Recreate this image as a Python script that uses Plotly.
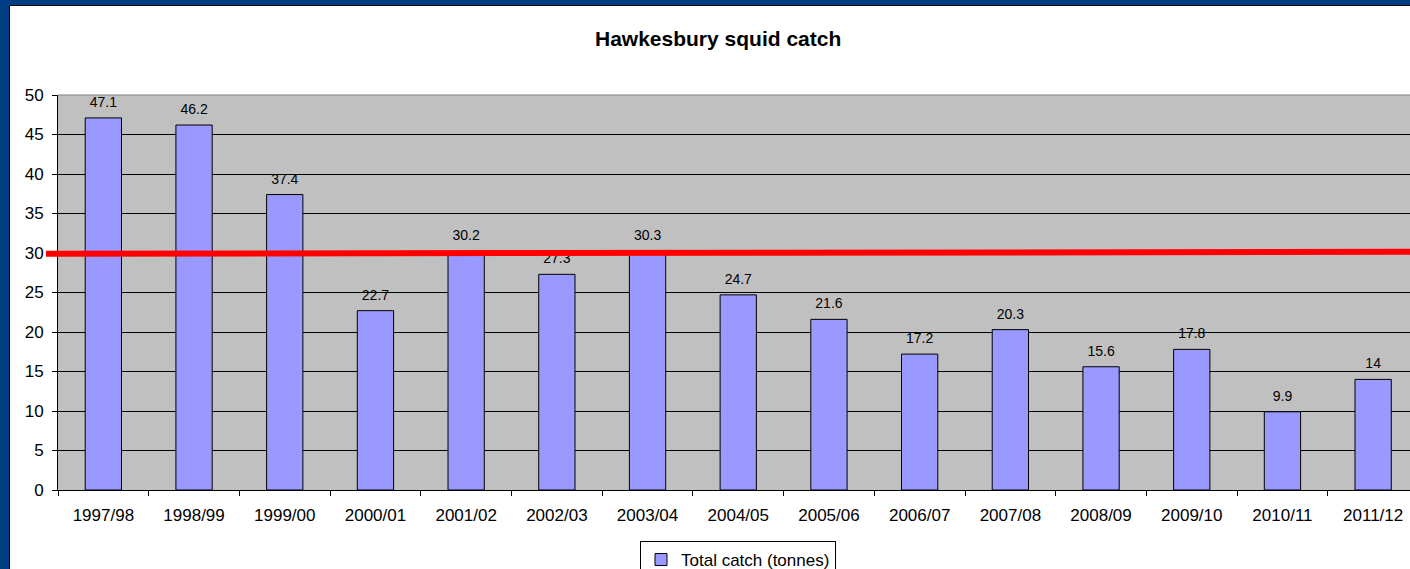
import plotly.graph_objects as go

# ---- data ----
seasons = ["1997/98", "1998/99", "1999/00", "2000/01", "2001/02", "2002/03", "2003/04",
           "2004/05", "2005/06", "2006/07", "2007/08", "2008/09", "2009/10", "2010/11", "2011/12"]
catch_tonnes = [47.1, 46.2, 37.4, 22.7, 30.2, 27.3, 30.3, 24.7, 21.6, 17.2, 20.3, 15.6, 17.8, 9.9, 14]
y_ticks = [0, 5, 10, 15, 20, 25, 30, 35, 40, 45, 50]
reference_start = 29.9   # hand-drawn red reference line, left end
reference_end = 30.15    # right end

W, H = 1410, 569
ML, MR, MT, MB = 58, 0, 95, 79
PW, PH = W - ML - MR, H - MT - MB
FONT = "Liberation Sans, Arial, sans-serif"
BLUE = "#003D82"

def px_x(p):
    return (p - ML) / PW

def px_y(p):
    return 1 - (p - MT) / PH

labels = [f"{v:g}" for v in catch_tonnes]

fig = go.Figure()
fig.add_trace(go.Bar(
    x=seasons, y=catch_tonnes, name="Total catch (tonnes)",
    width=0.4,
    marker=dict(color="#9999FF", line=dict(color="#000000", width=1)),
    hoverinfo="skip",
))
fig.add_trace(go.Scatter(
    x=seasons, y=catch_tonnes, text=labels, mode="markers+text",
    textposition="top center",
    marker=dict(size=10.4, color="rgba(0,0,0,0)"),
    textfont=dict(family=FONT, size=14, color="#000000"),
    showlegend=False, hoverinfo="skip",
))

cat_px = 90.7
span = PW / cat_px

shapes = [
    # grey plot-area top border
    dict(type="line", xref="paper", yref="paper", x0=0, x1=1, y0=1, y1=1,
         line=dict(color="#808080", width=1), layer="above"),
    # red reference line
    dict(type="line", xref="paper", yref="y", x0=px_x(46), x1=1.0,
         y0=reference_start, y1=reference_end,
         line=dict(color="#FF0000", width=6), layer="above"),
    # blue frame
    dict(type="rect", xref="paper", yref="paper", x0=px_x(-2), x1=px_x(9),
         y0=px_y(H + 5), y1=px_y(-2), fillcolor=BLUE, line=dict(width=0), layer="above"),
    dict(type="rect", xref="paper", yref="paper", x0=px_x(-2), x1=px_x(W + 5),
         y0=px_y(5), y1=px_y(-2), fillcolor=BLUE, line=dict(width=0), layer="above"),
    dict(type="line", xref="paper", yref="paper", x0=px_x(9.5), x1=px_x(9.5),
         y0=px_y(H + 5), y1=px_y(5.5), line=dict(color="#000000", width=1), layer="above"),
    dict(type="line", xref="paper", yref="paper", x0=px_x(9.5), x1=px_x(W + 5),
         y0=px_y(5.5), y1=px_y(5.5), line=dict(color="#000000", width=1), layer="above"),
]

fig.update_layout(
    width=W, height=H,
    margin=dict(l=ML, r=MR, t=MT, b=MB, pad=0, autoexpand=False),
    paper_bgcolor="#FFFFFF", plot_bgcolor="#C0C0C0",
    font=dict(family=FONT, size=17, color="#000000"),
    shapes=shapes,
    annotations=[dict(text="<b>Hawkesbury squid catch</b>", xref="paper", yref="paper",
                      x=px_x(718), y=px_y(39), xanchor="center", yanchor="middle",
                      showarrow=False, font=dict(family=FONT, size=21, color="#000000"))],
    showlegend=True,
    legend=dict(orientation="h", x=px_x(738), xanchor="center", y=px_y(541), yanchor="top",
                bordercolor="#000000", borderwidth=1, bgcolor="#FFFFFF",
                font=dict(family=FONT, size=17, color="#000000")),
    bargap=0.6,
)
fig.update_xaxes(
    type="category", range=[-0.5, -0.5 + span],
    showgrid=False, showline=True, linecolor="#000000", linewidth=1,
    ticks="outside", tickson="boundaries", ticklen=5, tickcolor="#000000", tickwidth=1,
    ticklabelstandoff=10, tickfont=dict(family=FONT, size=17), fixedrange=True,
)
fig.update_yaxes(
    range=[0, 50], tickvals=y_ticks, showgrid=True, gridcolor="#000000", gridwidth=1,
    zeroline=False, showline=True, linecolor="#000000", linewidth=1,
    ticks="outside", ticklen=5, tickcolor="#000000", tickwidth=1,
    ticklabelstandoff=5, tickfont=dict(family=FONT, size=17), fixedrange=True,
)

fig.write_html(
    "out.html",
    config={"displayModeBar": False},
    post_script="document.body.style.margin='0px';document.body.style.overflow='hidden';",
)
